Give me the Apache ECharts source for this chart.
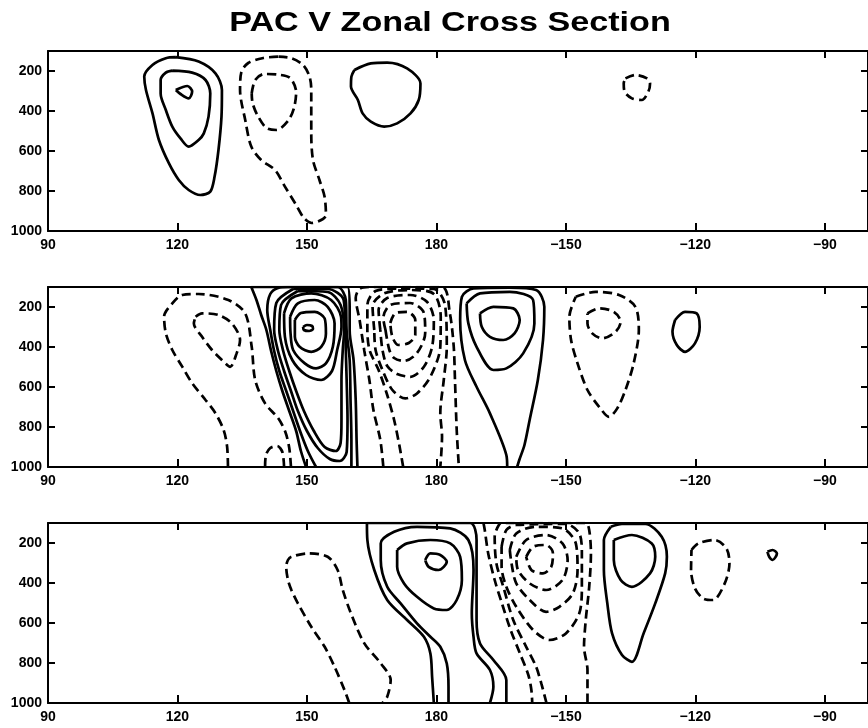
<!DOCTYPE html>
<html>
<head>
<meta charset="utf-8">
<script src="https://cdn.jsdelivr.net/npm/echarts@6/dist/echarts.min.js"></script>
<style>
  html, body { margin: 0; padding: 0; background: #fff; }
  #chart { width: 868px; height: 728px; }
</style>
</head>
<body>
<div id="chart"></div>
<script>
// Axis ticks: longitude (east 90..270) and pressure levels (hPa)
const lonTicks = [90, 120, 150, 180, 210, 240, 270];
const lonLabels = ['90', '120', '150', '180', '\u2212150', '\u2212120', '\u221290'];
const presTicks = [200, 400, 600, 800, 1000];

// ---- Upper section: contour paths as [longitude, pressure] ----
const upPosA = [[119.6,131],[124.9,153],[128.8,212],[130.3,295],[130.2,428],[129.5,595],[128.6,728],[127.6,803],[125.3,820],[122.6,795],[120.3,745],[118.0,661],[115.7,545],[114.2,411],[112.7,295],[112.3,228],[114.2,170],[117.3,136]];
const upPosB = [[118.8,198],[123.4,208],[126.5,245],[127.6,312],[127.2,428],[126.1,512],[124.9,545],[122.6,578],[120.7,537],[118.8,478],[117.3,395],[116.1,312],[116.1,245],[117.3,208]];
const upPosC = [[119.6,295],[122.3,275],[123.4,303],[122.6,337],[120.7,315]];
const upPosD = [[161.0,195],[164.8,162],[168.6,158],[173.2,187],[176.3,262],[175.9,345],[174.0,412],[170.9,462],[167.9,478],[164.8,453],[162.9,412],[161.8,345],[160.2,278],[160.3,228]];
const upNegA = [[137.2,312],[138.0,245],[140.1,215],[143.3,218],[146.1,235],[147.5,305],[147.0,385],[145.6,450],[142.9,495],[140.6,485],[138.5,420],[137.4,360]];
const upNegB = [[143.3,128],[139.9,135],[136.4,160],[134.8,205],[134.5,295],[135.7,445],[137.1,578],[139.4,645],[142.6,695],[144.9,778],[147.5,870],[149.3,935],[151.1,960],[154.4,920],[154.1,830],[152.9,745],[151.4,645],[151.0,510],[151.0,295],[150.6,228],[149.1,170],[146.4,136]];
const upNegC = [[223.8,237],[226.1,220],[228.8,237],[229.5,262],[229.1,303],[227.6,345],[225.3,337],[223.6,303],[223.4,262]];

// ---- Middle section ----
const midNegW1 = [[124.2,249],[125.7,232],[129.5,240],[132.6,282],[134.5,365],[133.7,432],[132.2,499],[130.3,465],[128.0,415],[125.7,349],[123.8,282]];
const midNegW2 = [[131.7,1000],[131.5,898],[130.7,815],[128.8,731],[126.5,665],[123.4,581],[121.1,498],[118.8,415],[117.3,331],[116.9,248],[118.8,182],[121.1,140],[124.9,135],[131.8,165],[135.7,232],[137.2,399],[138.0,565],[140.3,682],[143.3,755],[145.0,825],[145.9,905],[146.3,1000]];
const midNegW3 = [[140.3,1000],[140.5,940],[141.5,905],[143.1,895],[144.3,925],[144.7,1000]];
const midPos0 = [[149.1,300],[150.0,290],[151.2,295],[151.4,310],[150.5,320],[149.3,315]];
const midPos1 = [[147.2,265],[148.6,230],[151.8,224],[154.1,257],[154.4,332],[153.3,399],[151.0,424],[148.3,399],[147.2,349]];
const midPos2 = [[146.1,249],[147.9,182],[151.8,165],[154.8,199],[156.4,282],[156.0,399],[154.4,482],[152.1,507],[149.5,482],[146.8,415],[146.2,332]];
const midPos3 = [[144.7,231],[146.4,157],[151.0,132],[155.6,165],[157.9,249],[158.0,300],[157.0,415],[155.8,520],[153.3,565],[149.8,540],[146.6,465],[144.9,349]];
const midPos4 = [[147.9,120],[144.0,190],[143.6,315],[144.5,420],[145.9,520],[147.5,620],[149.3,720],[151.6,820],[154.1,900],[156.7,920],[157.8,880],[158.0,765],[158.0,565],[158.3,415],[158.6,320],[157.8,190],[154.8,125]];
const midPos5 = [[146.8,110],[142.9,180],[142.4,315],[143.3,420],[144.7,520],[146.3,620],[147.9,720],[150.0,820],[152.5,905],[155.3,960],[157.6,970],[159.2,925],[159.4,765],[159.2,565],[159.0,415],[158.9,320],[158.5,165],[154.8,110]];
const midPos6 = [[152.1,1000],[150.2,920],[148.4,820],[146.8,720],[145.2,620],[143.6,520],[142.4,420],[141.5,315],[140.8,215],[141.5,135],[143.3,105],[145.6,100],[157.1,100],[159.0,165],[159.2,320],[159.9,465],[160.1,665],[160.3,865],[160.3,1000]];
const midPos7 = [[149.8,1000],[148.6,920],[147.5,820],[145.9,720],[144.3,620],[142.9,520],[141.7,420],[140.6,315],[139.4,240],[138.3,165],[137.1,100],[159.4,100],[159.9,215],[159.9,320],[160.8,465],[161.3,665],[161.5,865],[161.7,1000]];
const midNeg1 = [[169.3,280],[170.5,230],[173.2,224],[175.1,265],[175.1,340],[173.6,380],[171.2,390],[169.8,350]];
const midNeg2 = [[168.2,315],[167.7,255],[169.3,190],[173.9,180],[177.1,230],[177.4,330],[175.5,430],[172.5,470],[170.2,455],[169.1,415]];
const midNeg3 = [[167.0,315],[166.6,215],[168.6,155],[173.9,140],[177.8,174],[179.4,265],[179.0,399],[177.1,499],[174.0,549],[170.9,535],[168.6,495],[167.5,415]];
const midNeg4 = [[165.6,315],[165.2,195],[167.9,132],[174.0,115],[179.4,135],[181.0,249],[180.9,399],[178.6,549],[175.5,632],[172.8,657],[169.8,615],[167.5,515],[165.9,415]];
const midNeg5 = [[172.3,1000],[171.4,890],[170.2,765],[168.6,640],[166.6,515],[164.5,415],[164.0,315],[164.0,190],[165.9,120],[170.9,108],[179.4,110],[182.0,190],[182.4,399],[181.7,565],[180.9,730],[181.3,849],[180.9,1000]];
const midNeg6 = [[167.7,1000],[167.0,865],[165.4,715],[164.5,570],[163.3,420],[162.2,265],[161.3,155],[162.2,110],[164.5,100],[181.3,100],[183.1,230],[184.0,395],[184.3,565],[184.7,815],[185.2,1000]];
const midPosE1 = [[190.1,232],[193.2,199],[197.8,207],[199.3,265],[198.1,332],[195.5,365],[192.4,349],[190.5,299]];
const midPosE2 = [[187.0,182],[190.1,132],[197.0,124],[202.4,165],[202.7,282],[200.1,432],[196.2,507],[193.2,515],[189.3,399],[187.4,282]];
const midPosE3 = [[196.4,1000],[196.2,940],[192.4,732],[189.3,599],[186.6,465],[185.5,265],[185.9,149],[188.6,107],[196.9,103],[203.1,115],[205.0,199],[204.7,365],[203.5,565],[201.6,765],[200.4,890],[199.2,965],[198.7,1000]];
const midNegE1 = [[215.0,232],[217.7,207],[221.1,224],[222.7,274],[221.5,324],[218.4,357],[216.1,332],[215.0,282]];
const midNegE2 = [[212.3,149],[216.9,124],[222.3,140],[226.1,199],[226.9,315],[225.7,482],[223.8,615],[221.9,707],[220.0,749],[217.7,699],[215.0,615],[212.7,482],[211.2,365],[210.8,249]];
const midPosF = [[235.3,265],[237.6,224],[240.3,232],[241.0,299],[239.9,382],[237.6,424],[235.7,390],[234.7,324]];

// ---- Lower section ----
const lowNegW = [[159.8,1000],[158.7,935],[156.4,819],[154.1,719],[151.0,619],[147.9,502],[146.4,435],[145.6,385],[145.2,319],[145.6,285],[146.4,269],[150.2,252],[154.8,269],[157.1,335],[158.3,435],[160.2,552],[163.3,702],[167.1,802],[169.4,885],[168.6,969],[167.5,1000]];
const lowPos1 = [[177.4,285],[178.6,252],[180.9,260],[182.4,294],[180.5,335],[178.2,319]];
const lowPos2 = [[170.9,235],[173.2,202],[178.6,185],[183.2,202],[185.5,269],[185.9,385],[184.7,485],[182.4,535],[179.4,527],[175.5,469],[172.5,402],[170.9,319]];
const lowPos3 = [[182.8,1000],[182.8,919],[182.4,802],[180.9,719],[178.6,669],[175.5,602],[171.7,502],[168.6,419],[167.1,285],[167.1,202],[170.2,144],[175.5,119],[183.2,127],[187.4,185],[188.6,335],[188.2,552],[188.6,669],[189.3,752],[192.4,835],[193.2,919],[192.4,1000]];
const lowPos4 = [[179.4,1000],[179.0,869],[178.6,752],[177.1,669],[173.2,585],[168.6,485],[165.6,335],[164.0,185],[163.9,100],[187.8,100],[189.3,185],[189.3,419],[189.3,585],[190.1,702],[193.2,785],[196.2,885],[196.2,1000]];
const lowNeg1 = [[200.8,269],[202.4,219],[205.4,210],[207.0,252],[206.6,319],[204.7,352],[202.0,335]];
const lowNeg2 = [[198.5,269],[200.8,185],[205.4,160],[209.2,202],[210.4,285],[209.2,385],[205.4,435],[201.6,402],[198.9,335]];
const lowNeg3 = [[197.0,235],[198.5,152],[203.1,119],[209.2,127],[212.3,202],[212.7,335],[211.6,452],[208.5,519],[205.4,544],[201.6,485],[198.5,402],[197.4,302]];
const lowNeg4 = [[195.1,219],[196.2,135],[198.5,110],[210.0,105],[213.1,152],[213.7,252],[213.7,419],[213.1,552],[210.0,652],[206.2,685],[202.4,635],[198.5,519],[196.2,419],[195.1,319]];
const lowNeg5 = [[205.5,1000],[204.3,902],[203.1,819],[200.8,719],[197.8,585],[195.5,419],[193.9,302],[193.5,169],[194.6,105],[195.5,100],[214.6,100],[215.4,135],[215.8,252],[215.4,419],[214.6,585],[214.2,719],[215.0,835],[215.0,1000]];
const lowNeg6 = [[190.9,100],[191.2,135],[192.0,252],[193.5,385],[195.3,510],[197.2,635],[199.5,760],[201.3,860],[202.0,935],[202.2,1000]];
const lowPosE1 = [[221.1,185],[225.3,160],[229.9,202],[230.7,269],[229.5,352],[225.3,419],[222.7,385],[221.1,285]];
const lowPosE2 = [[220.4,119],[223.0,105],[228.4,105],[232.2,169],[233.4,269],[233.0,352],[230.7,502],[228.0,652],[225.3,794],[223.0,760],[220.7,652],[219.6,502],[218.8,335],[218.8,185]];
const lowNegE = [[239.1,235],[240.7,202],[244.5,185],[247.2,227],[247.9,302],[246.8,402],[244.1,485],[241.8,477],[239.9,427],[239.0,335]];
const lowPosF = [[256.7,244],[257.9,235],[258.9,252],[257.9,285],[257.1,269]];

// Contour lists per section: sign of the field value and whether the path closes on itself
const upperContours = [
  { sign: 1, pts: upPosA, closed: true },
  { sign: 1, pts: upPosB, closed: true },
  { sign: 1, pts: upPosC, closed: true },
  { sign: 1, pts: upPosD, closed: true },
  { sign: -1, pts: upNegA, closed: true },
  { sign: -1, pts: upNegB, closed: true },
  { sign: -1, pts: upNegC, closed: true }
];
const middleContours = [
  { sign: -1, pts: midNegW1, closed: true },
  { sign: -1, pts: midNegW2, closed: false },
  { sign: -1, pts: midNegW3, closed: false },
  { sign: 1, pts: midPos0, closed: true },
  { sign: 1, pts: midPos1, closed: true },
  { sign: 1, pts: midPos2, closed: true },
  { sign: 1, pts: midPos3, closed: true },
  { sign: 1, pts: midPos4, closed: true },
  { sign: 1, pts: midPos5, closed: true },
  { sign: 1, pts: midPos6, closed: false },
  { sign: 1, pts: midPos7, closed: false },
  { sign: -1, pts: midNeg1, closed: true },
  { sign: -1, pts: midNeg2, closed: true },
  { sign: -1, pts: midNeg3, closed: true },
  { sign: -1, pts: midNeg4, closed: true },
  { sign: -1, pts: midNeg5, closed: false },
  { sign: -1, pts: midNeg6, closed: false },
  { sign: 1, pts: midPosE1, closed: true },
  { sign: 1, pts: midPosE2, closed: true },
  { sign: 1, pts: midPosE3, closed: false },
  { sign: -1, pts: midNegE1, closed: true },
  { sign: -1, pts: midNegE2, closed: true },
  { sign: 1, pts: midPosF, closed: true }
];
const lowerContours = [
  { sign: -1, pts: lowNegW, closed: false },
  { sign: 1, pts: lowPos1, closed: true },
  { sign: 1, pts: lowPos2, closed: true },
  { sign: 1, pts: lowPos3, closed: false },
  { sign: 1, pts: lowPos4, closed: false },
  { sign: -1, pts: lowNeg1, closed: true },
  { sign: -1, pts: lowNeg2, closed: true },
  { sign: -1, pts: lowNeg3, closed: true },
  { sign: -1, pts: lowNeg4, closed: true },
  { sign: -1, pts: lowNeg5, closed: false },
  { sign: -1, pts: lowNeg6, closed: false },
  { sign: 1, pts: lowPosE1, closed: true },
  { sign: 1, pts: lowPosE2, closed: true },
  { sign: -1, pts: lowNegE, closed: true },
  { sign: 1, pts: lowPosF, closed: true }
];
const sections = [upperContours, middleContours, lowerContours];

// ---- Layout and styling ----
const FONT = '"Liberation Sans", Arial, Helvetica, sans-serif';
const gridTops = [51, 287, 523];
const LON_MIN = 90, LON_MAX = 280;
const P_MIN = 100, P_MAX = 1000;

const grids = [], xAxes = [], yAxes = [], series = [];

const axisLine = { show: true, lineStyle: { color: '#000', width: 2 } };
const tickStyle = { lineStyle: { color: '#000', width: 2 } };
const labelStyle = { color: '#000', fontFamily: FONT, fontWeight: 'bold', fontSize: 14 };

sections.forEach((contours, i) => {
  grids.push({ left: 48, right: -6, top: gridTops[i], height: 180, containLabel: false });

  // bottom axis with labels, top axis as frame with inward ticks
  xAxes.push({
    gridIndex: i, type: 'value', min: LON_MIN, max: LON_MAX, position: 'bottom',
    axisLine: axisLine,
    axisTick: Object.assign({ show: true, inside: true, length: 8, customValues: lonTicks }, tickStyle),
    axisLabel: Object.assign({
      show: true, margin: 7, customValues: lonTicks,
      formatter: v => { const k = lonTicks.indexOf(v); return k >= 0 ? lonLabels[k] : ''; }
    }, labelStyle),
    splitLine: { show: false }
  });
  xAxes.push({
    gridIndex: i, type: 'value', min: LON_MIN, max: LON_MAX, position: 'top',
    axisLine: axisLine,
    axisTick: Object.assign({ show: true, inside: true, length: 7, customValues: lonTicks }, tickStyle),
    axisLabel: { show: false },
    splitLine: { show: false }
  });

  yAxes.push({
    gridIndex: i, type: 'value', min: P_MIN, max: P_MAX, inverse: true, position: 'left',
    axisLine: axisLine,
    axisTick: Object.assign({ show: true, inside: true, length: 7, customValues: presTicks }, tickStyle),
    axisLabel: Object.assign({ show: true, margin: 6, customValues: presTicks, formatter: v => String(v) }, labelStyle),
    splitLine: { show: false }
  });
  yAxes.push({
    gridIndex: i, type: 'value', min: P_MIN, max: P_MAX, inverse: true, position: 'right',
    axisLine: axisLine,
    axisTick: Object.assign({ show: true, inside: true, length: 7, customValues: presTicks }, tickStyle),
    axisLabel: { show: false },
    splitLine: { show: false }
  });

  contours.forEach(c => {
    const data = c.closed ? c.pts.concat([c.pts[0]]) : c.pts;
    series.push({
      type: 'line',
      xAxisIndex: 2 * i,
      yAxisIndex: 2 * i,
      data: data,
      symbol: 'none',
      smooth: 0.3,
      clip: true,
      silent: true,
      lineStyle: {
        color: '#000',
        width: 2.7,
        type: c.sign > 0 ? 'solid' : [9, 5]
      }
    });
  });
});

const chart = echarts.init(document.getElementById('chart'), null, { renderer: 'canvas' });
chart.setOption({
  animation: false,
  backgroundColor: '#fff',
  grid: grids,
  xAxis: xAxes,
  yAxis: yAxes,
  series: series,
  graphic: [{
    type: 'text',
    x: 450,
    y: 23,
    scaleX: 1.22,
    style: {
      text: 'PAC V Zonal Cross Section',
      fontFamily: FONT,
      fontWeight: 'bold',
      fontSize: 28,
      fill: '#000',
      textAlign: 'center',
      textVerticalAlign: 'middle'
    }
  }]
});
</script>
</body>
</html>
